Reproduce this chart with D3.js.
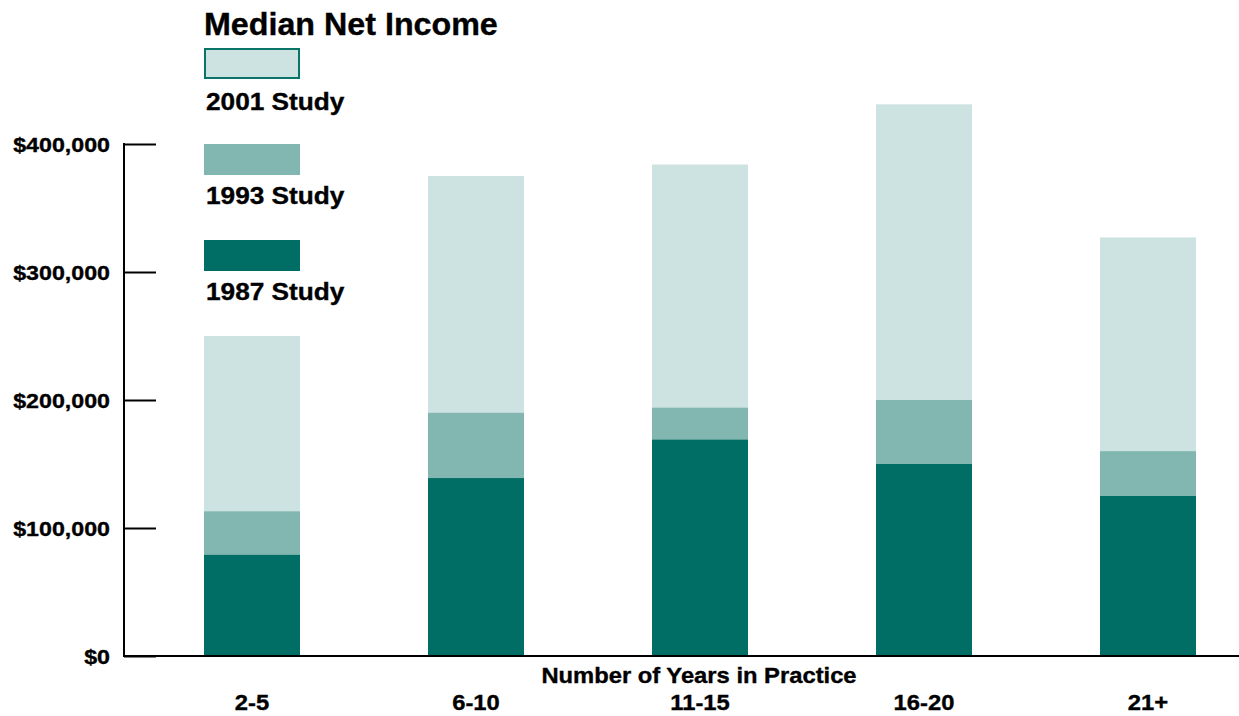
<!DOCTYPE html>
<html>
<head>
<meta charset="utf-8">
<title>Median Net Income</title>
<script src="https://cdn.jsdelivr.net/npm/d3@7"></script>
<style>
  body { margin: 0; background: #fff; }
  text { font-family: "Liberation Sans", Arial, sans-serif; font-weight: bold; fill: #000; stroke: #000; stroke-width: 0.35px; }
</style>
</head>
<body>
<div id="chart"></div>
<script>
var width = 1239, height = 716;

// data
var categories = ["2-5", "6-10", "11-15", "16-20", "21+"];
var study2001 = [250000, 375000, 384000, 431000, 327000];
var study1993 = [113000, 190000, 194000, 200000, 160000];
var study1987 = [79000, 139000, 169000, 150000, 125000];
var yTicks = [0, 100000, 200000, 300000, 400000];
var seriesNames = ["2001 Study", "1993 Study", "1987 Study"];
var seriesColors = ["#cde3e1", "#82b6b1", "#006e64"];

var svg = d3.select("#chart").append("svg")
  .attr("width", width)
  .attr("height", height);

// the original lettering is a bit wider than Liberation Sans, stretch it
function widen(sel, k) {
  sel.each(function() {
    var w = this.getComputedTextLength();
    d3.select(this).attr("textLength", w * k).attr("lengthAdjust", "spacingAndGlyphs");
  });
}

var x = d3.scaleBand()
  .domain(categories)
  .range([140, 1260])
  .paddingInner(128 / 224)
  .paddingOuter(64 / 224);

var y = d3.scaleLinear()
  .domain([0, 400000])
  .range([656, 144]);

// bars overlap, back to front: 2001, 1993, 1987
var series = [study2001, study1993, study1987];
series.forEach(function(vals, s) {
  svg.append("g").selectAll("rect")
    .data(vals)
    .enter().append("rect")
    .attr("x", function(d, i) { return x(categories[i]); })
    .attr("y", function(d) { return y(d); })
    .attr("width", x.bandwidth())
    .attr("height", function(d) { return y(0) - y(d); })
    .style("fill", seriesColors[s]);
});

// y axis with inward ticks
var yAxis = svg.append("g")
  .attr("transform", "translate(124,0)")
  .call(d3.axisRight(y)
    .tickValues(yTicks)
    .tickSize(32)
    .tickFormat(""));
yAxis.select(".domain").remove();
yAxis.selectAll(".tick line").attr("stroke", "#000").attr("stroke-width", 2);

svg.append("line")
  .attr("x1", 124).attr("x2", 124)
  .attr("y1", y(400000) - 1).attr("y2", y(0) + 1)
  .attr("stroke", "#000").attr("stroke-width", 2);

svg.append("line")
  .attr("x1", 123).attr("x2", width)
  .attr("y1", y(0)).attr("y2", y(0))
  .attr("stroke", "#000").attr("stroke-width", 2);

svg.append("g").selectAll("text")
  .data(yTicks)
  .enter().append("text")
  .attr("x", 110)
  .attr("y", function(d) { return y(d) + 7.5; })
  .attr("text-anchor", "end")
  .style("font-size", "20px")
  .text(function(d) { return "$" + d3.format(",")(d); })
  .call(widen, 1.16);

// x labels
svg.append("g").selectAll("text")
  .data(categories)
  .enter().append("text")
  .attr("x", function(d) { return x(d) + x.bandwidth() / 2; })
  .attr("y", 710)
  .attr("text-anchor", "middle")
  .style("font-size", "22px")
  .text(function(d) { return d; })
  .call(widen, 1.08);

svg.append("text")
  .attr("x", 699)
  .attr("y", 683)
  .attr("text-anchor", "middle")
  .style("font-size", "22px")
  .text("Number of Years in Practice")
  .call(widen, 1.08);

// title
svg.append("text")
  .attr("x", 204)
  .attr("y", 35)
  .style("font-size", "31px")
  .text("Median Net Income")
  .call(widen, 1.04);

// legend
var legend = svg.append("g").selectAll("g")
  .data(seriesNames)
  .enter().append("g")
  .attr("transform", function(d, i) { return "translate(204," + (48 + i * 96) + ")"; });

legend.append("rect")
  .attr("x", function(d, i) { return i === 0 ? 1 : 0; })
  .attr("y", function(d, i) { return i === 0 ? 1 : 0; })
  .attr("width", function(d, i) { return i === 0 ? 94 : 96; })
  .attr("height", function(d, i) { return i === 0 ? 29 : 31; })
  .style("fill", function(d, i) { return seriesColors[i]; })
  .style("stroke", function(d, i) { return i === 0 ? "#0b7468" : "none"; })
  .style("stroke-width", 2);

legend.append("text")
  .attr("x", 2)
  .attr("y", function(d, i) { return i === 0 ? 62 : 60; })
  .style("font-size", "23px")
  .text(function(d) { return d; })
  .call(widen, 1.14);
</script>
</body>
</html>
